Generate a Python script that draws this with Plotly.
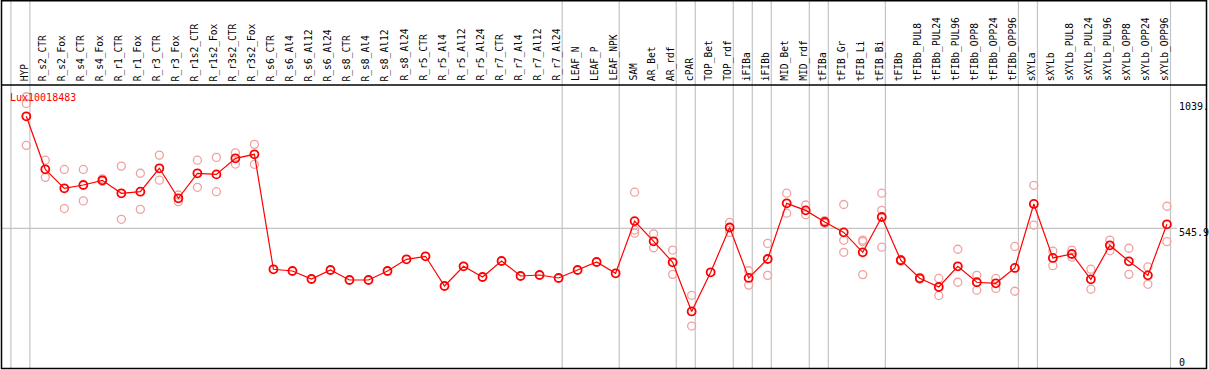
import plotly.graph_objects as go

categories = ["HYP", "R_s2_CTR", "R_s2_Fox", "R_s4_CTR", "R_s4_Fox", "R_r1_CTR", "R_r1_Fox",
              "R_r3_CTR", "R_r3_Fox", "R_r1s2_CTR", "R_r1s2_Fox", "R_r3s2_CTR", "R_r3s2_Fox",
              "R_s6_CTR", "R_s6_Al4", "R_s6_Al12", "R_s6_Al24", "R_s8_CTR", "R_s8_Al4", "R_s8_Al12",
              "R_s8_Al24", "R_r5_CTR", "R_r5_Al4", "R_r5_Al12", "R_r5_Al24", "R_r7_CTR", "R_r7_Al4",
              "R_r7_Al12", "R_r7_Al24", "LEAF_N", "LEAF_P", "LEAF_NPK", "SAM", "AR_Bet", "AR_rdf",
              "cPAR", "TOP_Bet", "TOP_rdf", "iFIBa", "iFIBb", "MID_Bet", "MID_rdf", "tFIBa",
              "tFIB_Gr", "tFIB_Li", "tFIB_Bi", "tFIBb", "tFIBb_PUL8", "tFIBb_PUL24", "tFIBb_PUL96",
              "tFIBb_OPP8", "tFIBb_OPP24", "tFIBb_OPP96", "sXYLa", "sXYLb", "sXYLb_PUL8",
              "sXYLb_PUL24", "sXYLb_PUL96", "sXYLb_OPP8", "sXYLb_OPP24", "sXYLb_OPP96"]

mean_values = [983.5, 776.4, 702.2, 715.1, 733.5, 682.7, 689.0, 780.4, 663.1, 760.8, 756.6, 819.4, 835.0,
               385.7, 379.0, 347.8, 383.0, 343.9, 343.9, 379.0, 424.8, 436.5, 320.4, 397.4, 355.6, 418.1,
               359.5, 363.4, 351.7, 383.0, 414.2, 370.0, 574.0, 495.0, 413.0, 221.0, 374.0, 549.0, 352.0,
               426.0, 643.5, 616.0, 570.5, 530.0, 452.0, 590.0, 421.0, 350.5, 316.5, 397.4, 335.0, 331.0,
               391.0, 641.0, 430.0, 445.5, 346.6, 479.5, 417.0, 362.0, 561.5]

replicates = [[1060, 1034, 870], [812, 745], [776, 623], [776, 653], [739, 729], [789, 581], [761, 620],
              [832, 734], [676, 650], [812, 706], [823, 689], [841, 797], [874, 796],
              [], [], [], [], [], [], [], [], [], [], [], [], [], [], [], [], [], [], [],
              [687, 539, 527], [524, 470], [461, 366], [284, 164], [], [569, 530], [380, 324],
              [487, 362], [683, 605], [637, 599], [576, 565], [639, 499, 452], [500, 494, 365],
              [683, 616, 472], [424, 418], [354, 347], [350, 283], [464, 335], [362, 304], [350, 311],
              [475, 300], [714, 558], [457, 400], [461, 433], [386, 308], [500, 458], [468, 366],
              [395, 327], [632, 494]]

group_ends = [-1, 0, 28, 31, 34, 35, 37, 38, 39, 41, 42, 45, 52, 53, 60]
y_labels = ["1039.", "545.9", "0"]
y_label_values = [1039.0, 545.9, 0.0]
series_name = "Lux10018483"

W, H = 1209, 370
px_per_cat = 19.01
x0 = -26.3 / px_per_cat
x1 = x0 + W / px_per_cat
py = 0.2559
y0 = -2 / py
y1 = y0 + H / py

def xpx_to_data(px):
    return x0 + px / px_per_cat

def ypx_to_paper(px):
    return 1 - px / H

idx = list(range(len(categories)))
rx, ry = [], []
for i, reps in enumerate(replicates):
    for v in reps:
        rx.append(i)
        ry.append(v)

fig = go.Figure()
fig.add_trace(go.Scatter(x=rx, y=ry, mode="markers",
                         marker=dict(symbol="circle-open", size=8, color="rgb(240,160,160)",
                                     line=dict(width=1.3, color="rgb(240,160,160)")),
                         hoverinfo="skip", showlegend=False))
fig.add_trace(go.Scatter(x=idx, y=mean_values, mode="lines+markers",
                         line=dict(color="#ff0000", width=1.2),
                         marker=dict(symbol="circle-open", size=8, color="#ff0000",
                                     line=dict(width=1.8, color="#ff0000")),
                         hoverinfo="skip", showlegend=False))

shapes = []
for g in group_ends:
    xv = g + 0.19
    shapes.append(dict(type="line", xref="x", yref="paper", x0=xv, x1=xv, y0=ypx_to_paper(368), y1=1,
                       line=dict(color="#c4c4c4", width=1.2), layer="below"))
# horizontal middle gridline
shapes.append(dict(type="line", xref="x", yref="y", x0=xpx_to_data(1), x1=xpx_to_data(1177),
                   y0=y_label_values[1], y1=y_label_values[1],
                   line=dict(color="#c4c4c4", width=1.2), layer="below"))
# borders
shapes.append(dict(type="rect", xref="paper", yref="paper", x0=1.5 / W, x1=1206.5 / W,
                   y0=ypx_to_paper(368.5), y1=ypx_to_paper(0.8), line=dict(color="black", width=1.5)))
shapes.append(dict(type="line", xref="paper", yref="paper", x0=1.5 / W, x1=1206.5 / W,
                   y0=ypx_to_paper(85), y1=ypx_to_paper(85), line=dict(color="black", width=1.5)))

annotations = []
for i, c in enumerate(categories):
    annotations.append(dict(x=i - 2.0 / px_per_cat, y=ypx_to_paper(83), xref="x", yref="paper",
                            text=c, textangle=-90, showarrow=False, xanchor="center", yanchor="bottom",
                            font=dict(family="DejaVu Sans Mono", size=9.6, color="black")))
for lab, v in zip(y_labels, y_label_values):
    ypx = 368 - v * py
    if v == 0:
        ypx = 362
    else:
        ypx = ypx + 4.5
    annotations.append(dict(x=xpx_to_data(1177), y=ypx_to_paper(ypx), xref="x", yref="paper",
                            text=lab, showarrow=False, xanchor="left", yanchor="middle",
                            font=dict(family="DejaVu Sans Mono", size=10, color="black")))
annotations.append(dict(x=xpx_to_data(8), y=ypx_to_paper(97.3), xref="x", yref="paper",
                        text=series_name, showarrow=False, xanchor="left", yanchor="middle",
                        font=dict(family="DejaVu Sans Mono", size=10, color="#ff0000")))

fig.update_layout(width=W, height=H, margin=dict(l=0, r=0, t=0, b=0, pad=0),
                  paper_bgcolor="white", plot_bgcolor="white",
                  xaxis=dict(range=[x0, x1], visible=False, showgrid=False, zeroline=False),
                  yaxis=dict(range=[y0, y1], visible=False, showgrid=False, zeroline=False),
                  shapes=shapes, annotations=annotations)
fig.write_html("out.html", config={"displayModeBar": False, "staticPlot": True},
               post_script="document.body.style.margin='0px';document.body.style.overflow='hidden';")
